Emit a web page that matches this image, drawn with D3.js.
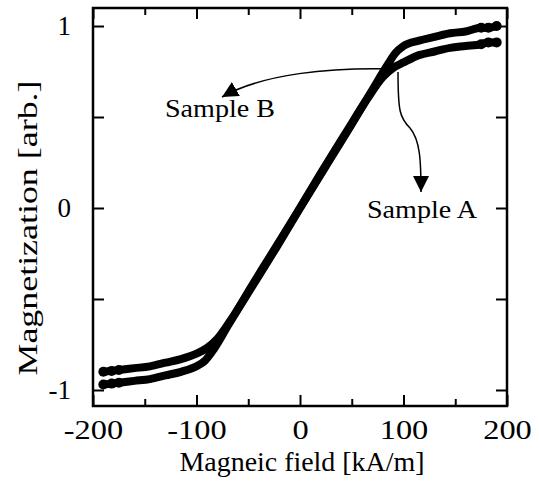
<!DOCTYPE html>
<html>
<head>
<meta charset="utf-8">
<script src="https://cdn.jsdelivr.net/npm/d3@7"></script>
<style>
  body { margin: 0; background: #fff; }
  svg text { font-family: "Liberation Serif", "Times New Roman", Times, serif; fill: #000; }
</style>
</head>
<body>
<div id="chart"></div>
<script>
// magnetization curves
const fieldB = [-190, -182, -175, -160, -145, -130, -115, -100, -92, -85, -70, -50, -25, 0, 25, 50, 70, 85, 92, 100, 115, 130, 145, 160, 175, 182, 190];
const magB   = [-0.97, -0.965, -0.96, -0.95, -0.94, -0.92, -0.90, -0.87, -0.84, -0.79, -0.65, -0.46, -0.23, 0, 0.23, 0.46, 0.65, 0.79, 0.85, 0.89, 0.92, 0.94, 0.96, 0.97, 0.99, 0.99, 1.0];
const fieldA = [-190, -182, -175, -160, -145, -130, -115, -100, -90, -80, -65, -45, -20, 0, 20, 45, 65, 80, 90, 100, 115, 130, 145, 160, 175, 182, 190];
const magA   = [-0.90, -0.895, -0.89, -0.88, -0.87, -0.85, -0.83, -0.80, -0.77, -0.72, -0.60, -0.42, -0.19, 0, 0.19, 0.42, 0.60, 0.72, 0.77, 0.80, 0.84, 0.86, 0.88, 0.89, 0.90, 0.91, 0.91];

const xTicks = [-200, -100, 0, 100, 200];
const xMinor = [-150, -50, 50, 150];
const yTicks = [-1, 0, 1];
const yMinor = [-0.5, 0.5];

const width = 539, height = 481;
const margin = { top: 8, right: 32, bottom: 75, left: 93 };
const serif = "'Liberation Serif', 'Times New Roman', Times, serif";

const svg = d3.select("#chart").append("svg")
    .attr("width", width)
    .attr("height", height);

const x = d3.scaleLinear().domain([-200, 200]).range([margin.left, width - margin.right]);
const y = d3.scaleLinear().domain([-1.088, 1.099]).range([height - margin.bottom, margin.top]);

const seriesB = fieldB.map((h, i) => ({ h: h, m: magB[i] }));
const seriesA = fieldA.map((h, i) => ({ h: h, m: magA[i] }));

const line = d3.line()
    .x(d => x(d.h))
    .y(d => y(d.m))
    .curve(d3.curveMonotoneX);

// curves (dense markers drawn as a thick line, dots at the ends)
[seriesA, seriesB].forEach(s => {
    svg.append("path")
        .datum(s)
        .attr("fill", "none")
        .attr("stroke", "#000")
        .attr("stroke-width", 8)
        .attr("stroke-linecap", "round")
        .attr("d", line);
    svg.append("g")
        .selectAll("circle")
        .data(s.filter(d => Math.abs(d.h) >= 175))
        .enter()
        .append("circle")
            .attr("cx", d => x(d.h))
            .attr("cy", d => y(d.m))
            .attr("r", 5)
            .attr("fill", "#000");
});

// axes, ticks pointing inward
function tickG(axis, pos) {
    const g = svg.append("g").attr("transform", pos).call(axis);
    g.attr("font-family", serif);
    g.select(".domain").remove();
    g.selectAll("line").attr("stroke", "#000").attr("stroke-width", 2);
    return g;
}
const plain = d => String(d);   // hyphen-minus like the original
const xb = tickG(d3.axisBottom(x).tickValues(xTicks).tickSizeInner(-11).tickPadding(14).tickFormat(plain),
    `translate(0,${y.range()[0]})`);
tickG(d3.axisBottom(x).tickValues(xMinor).tickSizeInner(-7).tickFormat(""), `translate(0,${y.range()[0]})`);
tickG(d3.axisTop(x).tickValues(xTicks).tickSizeInner(-11).tickFormat(""), `translate(0,${y.range()[1]})`);
tickG(d3.axisTop(x).tickValues(xMinor).tickSizeInner(-7).tickFormat(""), `translate(0,${y.range()[1]})`);
const yl = tickG(d3.axisLeft(y).tickValues(yTicks).tickSizeInner(-11).tickPadding(22).tickFormat(plain),
    `translate(${x.range()[0]},0)`);
tickG(d3.axisLeft(y).tickValues(yMinor).tickSizeInner(-11).tickFormat(""), `translate(${x.range()[0]},0)`);
tickG(d3.axisRight(y).tickValues(yTicks.concat(yMinor)).tickSizeInner(-11).tickFormat(""), `translate(${x.range()[1]},0)`);

xb.selectAll("text").style("font-size", "27px").style("font-family", serif).attr("fill", "#000")
    .attr("transform", "scale(1.2,1)");
yl.selectAll("text").style("font-size", "27px").style("font-family", serif).attr("fill", "#000");

// frame
svg.append("rect")
    .attr("x", x.range()[0])
    .attr("y", y.range()[1])
    .attr("width", x.range()[1] - x.range()[0])
    .attr("height", y.range()[0] - y.range()[1])
    .attr("fill", "none")
    .attr("stroke", "#000")
    .attr("stroke-width", 2.5);

// axis labels
svg.append("text")
    .attr("x", 302)
    .attr("y", 471)
    .attr("text-anchor", "middle")
    .attr("textLength", 245)
    .attr("lengthAdjust", "spacingAndGlyphs")
    .style("font-family", serif)
    .style("font-size", "27px")
    .text("Magneic field [kA/m]");

svg.append("text")
    .attr("transform", "translate(37,228) rotate(-90)")
    .attr("text-anchor", "middle")
    .attr("textLength", 295)
    .attr("lengthAdjust", "spacingAndGlyphs")
    .style("font-family", serif)
    .style("font-size", "28px")
    .text("Magnetization [arb.]");

// annotations
svg.append("defs").append("marker")
    .attr("id", "head")
    .attr("viewBox", "0 0 10 10")
    .attr("refX", 10).attr("refY", 5)
    .attr("markerWidth", 16).attr("markerHeight", 16)
    .attr("markerUnits", "userSpaceOnUse")
    .attr("orient", "auto")
    .append("path")
        .attr("d", "M0,0 L10,5 L0,10 Z")
        .attr("fill", "#000");

svg.append("path")
    .attr("d", "M396,69 C330,67 262,74 222,97")
    .attr("fill", "none")
    .attr("stroke", "#000")
    .attr("stroke-width", 1.5)
    .attr("marker-end", "url(#head)");

svg.append("path")
    .attr("d", "M398,72 C398,112 400,118 410,128 C420,140 421,160 421,192")
    .attr("fill", "none")
    .attr("stroke", "#000")
    .attr("stroke-width", 1.5)
    .attr("marker-end", "url(#head)");

svg.append("text")
    .attr("x", 165).attr("y", 117)
    .attr("textLength", 110)
    .attr("lengthAdjust", "spacingAndGlyphs")
    .style("font-family", serif)
    .style("font-size", "25px")
    .text("Sample B");

svg.append("text")
    .attr("x", 367).attr("y", 218)
    .attr("textLength", 110)
    .attr("lengthAdjust", "spacingAndGlyphs")
    .style("font-family", serif)
    .style("font-size", "25px")
    .text("Sample A");
</script>
</body>
</html>
